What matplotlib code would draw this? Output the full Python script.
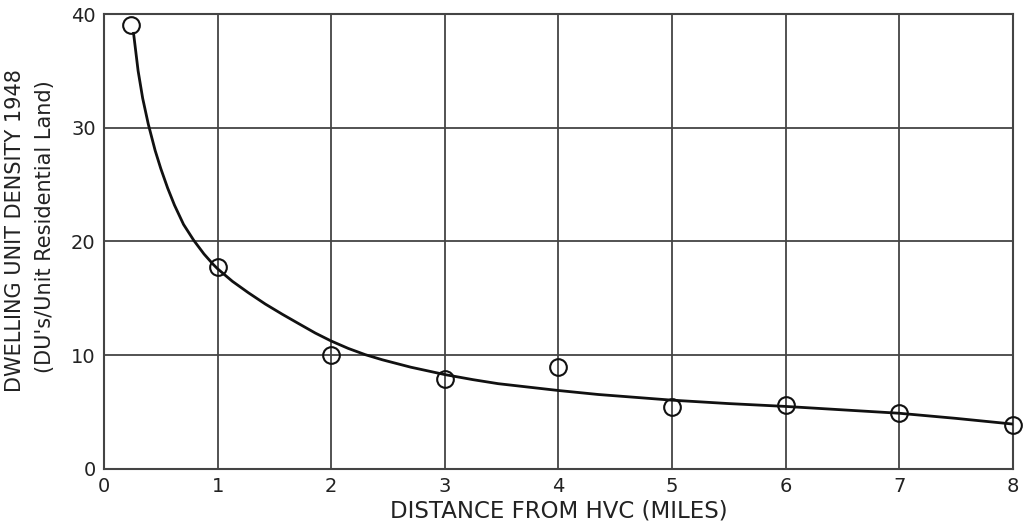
import numpy as np
import matplotlib
matplotlib.use("Agg")
import matplotlib.pyplot as plt

# ---------------- data --------------------------------------------------------
# observed points (circles)
obs_x = [0.24, 1, 2, 3, 4, 5, 6, 7, 8]
obs_y = [39.0, 17.8, 10.0, 7.9, 9.0, 5.45, 5.6, 4.9, 3.9]

# fitted curve
curve_x = [0.26, 0.30, 0.34, 0.39, 0.45, 0.50, 0.56, 0.62, 0.70, 0.79, 0.88,
           0.96, 1.00, 1.13, 1.27, 1.42, 1.57, 1.71, 1.86, 2.00, 2.15, 2.30,
           2.45, 2.70, 3.00, 3.25, 3.47, 4.00, 4.35, 5.00, 5.50, 6.00, 6.50,
           7.00, 7.50, 8.00]
curve_y = [38.3, 35.0, 32.6, 30.3, 28.0, 26.4, 24.7, 23.2, 21.5, 20.1, 18.9,
           18.0, 17.6, 16.5, 15.5, 14.5, 13.6, 12.8, 11.95, 11.25, 10.6, 10.05,
           9.6, 8.95, 8.3, 7.85, 7.5, 6.9, 6.55, 6.05, 5.75, 5.5, 5.2,
           4.9, 4.45, 3.95]

x_ticks = [0, 1, 2, 3, 4, 5, 6, 7, 8]
y_ticks = [0, 10, 20, 30, 40]
x_label = "DISTANCE FROM HVC (MILES)"
y_label_1 = "DWELLING UNIT DENSITY 1948"
y_label_2 = "(DU's/Unit Residential Land)"

# ---------------- figure -------------------------------------------------------
fig = plt.figure(figsize=(10.25, 5.31), dpi=100)
ax = fig.add_axes([0.1015, 0.1168, 0.8865, 0.8568])

grid_col = "#444444"
ax.set_xlim(0, 8)
ax.set_ylim(0, 40)
ax.set_xticks(x_ticks)
ax.set_yticks(y_ticks)
ax.tick_params(length=0, labelsize=14, colors="#222222", pad=6)
ax.grid(True, color=grid_col, linewidth=1.3)
for s in ax.spines.values():
    s.set_color(grid_col)
    s.set_linewidth(1.5)

ax.plot(curve_x, curve_y, color="#111111", linewidth=2.0, zorder=3)
ax.plot(obs_x, obs_y, linestyle="none", marker="o", markersize=12,
        markerfacecolor="none", markeredgecolor="#111111",
        markeredgewidth=1.5, clip_on=False, zorder=4)

ax.set_xlabel(x_label, fontsize=16.5, color="#222222", labelpad=2)
fig.text(0.0150, 0.565, y_label_1, rotation=90, ha="center", va="center",
         fontsize=15, color="#222222")
fig.text(0.0440, 0.573, y_label_2, rotation=90, ha="center", va="center",
         fontsize=15, color="#222222")

fig.savefig("out.png", dpi=100)
